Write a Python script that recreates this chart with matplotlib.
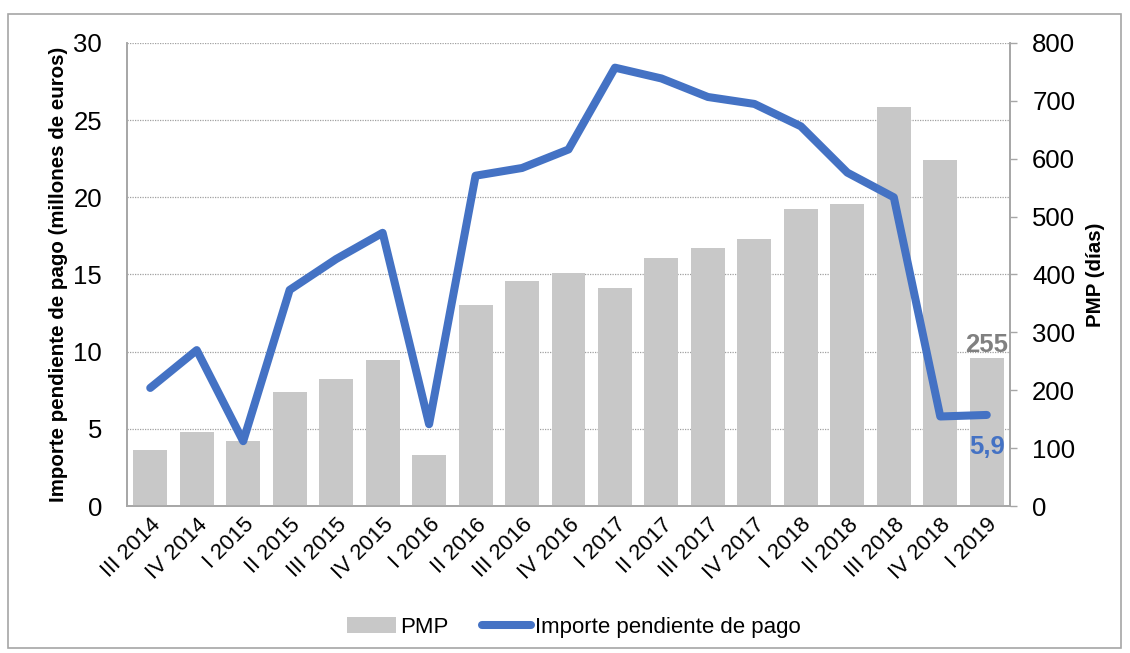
import numpy as np
import matplotlib.pyplot as plt
from matplotlib.patches import Rectangle

plt.rcParams['font.family'] = ['Liberation Sans', 'DejaVu Sans']

trimestres = ['III 2014', 'IV 2014', 'I 2015', 'II 2015', 'III 2015', 'IV 2015',
              'I 2016', 'II 2016', 'III 2016', 'IV 2016', 'I 2017', 'II 2017',
              'III 2017', 'IV 2017', 'I 2018', 'II 2018', 'III 2018', 'IV 2018',
              'I 2019']
# PMP (dias), eje derecho
pmp = [97, 128, 112, 197, 219, 252, 88, 347, 389, 402, 376, 428,
       446, 461, 513, 522, 689, 598, 255]
# Importe pendiente de pago (millones de euros), eje izquierdo
importe = [7.65, 10.1, 4.2, 14.0, 16.0, 17.7, 5.3, 21.4, 21.9, 23.1, 28.4, 27.7,
           26.5, 26.05, 24.6, 21.6, 20.0, 5.8, 5.9]

BAR_COLOR = '#C8C8C8'
LINE_COLOR = '#4472C4'
AXIS_GRAY = '#A6A6A6'

fig = plt.figure(figsize=(11.3, 6.53), dpi=100)
ax = fig.add_axes([0.1124, 0.2251, 0.7814, 0.7091])
ax2 = ax.twinx()

x = np.arange(len(trimestres))

# left axis: scale + grid (drawn at the back)
ax.set_ylim(0, 30)
ax.set_yticks(np.arange(0, 31, 5))
ax.yaxis.grid(True, linestyle=(0, (1, 1)), color='#A0A0A0', linewidth=0.9)
ax.set_axisbelow(True)
ax.tick_params(axis='y', length=0, pad=18, labelsize=18.5)
ax.set_xlim(-0.5, len(trimestres) - 0.5)
ax.set_xticks(x)
ax.set_xticklabels(trimestres, rotation=45, ha='right', rotation_mode='anchor',
                   fontsize=16)
ax.tick_params(axis='x', length=0, pad=6)
ax.set_ylabel('Importe pendiente de pago (millones de euros)', fontsize=14.8,
              fontweight='bold', labelpad=4)

# right axis: bars
bars = ax2.bar(x, pmp, width=0.73, color=BAR_COLOR, label='PMP', zorder=1)
ax2.set_ylim(0, 800)
ax2.set_yticks(np.arange(0, 801, 100))
ax2.tick_params(axis='y', length=5, width=1, color=AXIS_GRAY, pad=11, labelsize=18.5)
ax2.set_ylabel('PMP (días)', fontsize=14.8, fontweight='bold', labelpad=8)

# line on top of bars, but in left-axis units
line, = ax2.plot(x, importe, color=LINE_COLOR, linewidth=5.8,
                 solid_joinstyle='round', solid_capstyle='round',
                 transform=ax.transData, label='Importe pendiente de pago', zorder=3)

for a in (ax, ax2):
    a.spines['top'].set_visible(False)
    for s in ('left', 'right', 'bottom'):
        a.spines[s].set_color(AXIS_GRAY)
        a.spines[s].set_linewidth(1.2)

ax2.annotate('255', xy=(x[-1], pmp[-1]), xytext=(0, 10), textcoords='offset points',
             ha='center', va='center', fontsize=18.5, fontweight='bold',
             color='#808080', zorder=4)
ax2.annotate('5,9', xy=(x[-1], importe[-1]), xycoords=ax.transData,
             xytext=(0, -23), textcoords='offset points',
             ha='center', va='center', fontsize=18.5, fontweight='bold',
             color=LINE_COLOR, zorder=4)

fig.legend([bars, line], ['PMP', 'Importe pendiente de pago'],
           loc='center', bbox_to_anchor=(0.508, 0.039), ncol=2, frameon=False,
           fontsize=16, handlelength=2.2, handletextpad=0.2, columnspacing=1.5)

# outer frame
fig.patches.append(Rectangle((8 / 1130, 5 / 653), 1113 / 1130, 634 / 653,
                             transform=fig.transFigure, fill=False,
                             edgecolor='#A6A6A6', linewidth=1.2))

fig.savefig('out.png', dpi=100)
